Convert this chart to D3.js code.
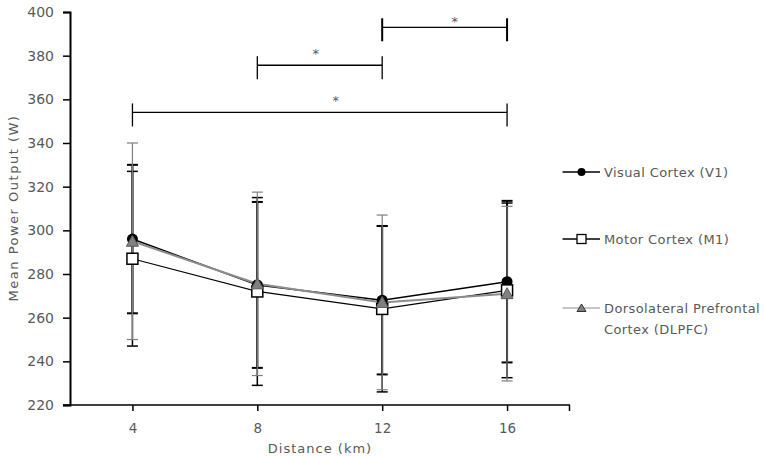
<!DOCTYPE html>
<html>
<head>
<meta charset="utf-8">
<script src="https://cdn.jsdelivr.net/npm/d3@7"></script>
<style>
  body { margin: 0; background: #fff; }
  svg text { font-family: "DejaVu Sans", sans-serif; fill: #595959; }
</style>
</head>
<body>
<div id="chart"></div>
<script>
// distances (km) and mean power output (W) with SD per region
const distances = [4, 8, 12, 16];
const v1Mean = [296, 275, 268, 276.5];
const v1SD = [34, 38, 34, 37];
const m1Mean = [287, 272, 264, 272.5];
const m1SD = [40, 43, 38, 40];
const dlpfcMean = [295, 275.5, 267, 271];
const dlpfcSD = [45, 42, 40, 40];
const yTicks = [220, 240, 260, 280, 300, 320, 340, 360, 380, 400];
const seriesNames = ["Visual Cortex (V1)", "Motor Cortex (M1)", "Dorsolateral Prefrontal|Cortex (DLPFC)"];
// significance brackets: from/to distance, bracket level and star level (W)
const bracketFrom = [12, 8, 4];
const bracketTo = [16, 12, 16];
const bracketLevel = [393, 375.6, 354];
const starLevel = [396, 381, 359.5];

let width = 764, height = 456;
let svg = d3.select("#chart").append("svg")
	.attr("width", width)
	.attr("height", height);

let x = d3.scalePoint()
	.domain(distances)
	.range([70, 569.5])
	.padding(0.5);

let y = d3.scaleLinear()
	.domain([220, 400])
	.range([405, 12]);

// y axis
let yAxis = svg.append("g")
	.attr("transform", "translate(70,0)")
	.call(d3.axisLeft(y).tickValues(yTicks).tickSize(7).tickPadding(9));
yAxis.select(".domain").attr("stroke", "#000").attr("stroke-width", 2);
yAxis.selectAll(".tick line").attr("stroke", "#000").attr("stroke-width", 1.5);
yAxis.selectAll(".tick text")
	.style("font-size", "14px")
	.attr("fill", "#595959");

// x axis
let xAxis = svg.append("g")
	.attr("transform", "translate(0,405)")
	.call(d3.axisBottom(x).tickSize(6).tickPadding(12));
xAxis.select(".domain").remove();
xAxis.append("line")
	.attr("x1", 63).attr("x2", 570)
	.attr("stroke", "#000").attr("stroke-width", 1.5);
xAxis.append("line")
	.attr("x1", 569.5).attr("x2", 569.5)
	.attr("y1", 0).attr("y2", 6)
	.attr("stroke", "#000").attr("stroke-width", 1.5);
xAxis.selectAll(".tick line").attr("stroke", "#000").attr("stroke-width", 1.5);
xAxis.selectAll(".tick text")
	.style("font-size", "13.5px")
	.attr("fill", "#595959");

// axis titles
svg.append("text")
	.attr("transform", "translate(18,208) rotate(-90)")
	.attr("text-anchor", "middle")
	.style("font-size", "13px")
	.style("letter-spacing", "1.5px")
	.text("Mean Power Output (W)");

svg.append("text")
	.attr("x", 320)
	.attr("y", 453)
	.attr("text-anchor", "middle")
	.style("font-size", "13px")
	.style("letter-spacing", "1px")
	.text("Distance (km)");

let series = [
	{mean: v1Mean, sd: v1SD, color: "#000", lineW: 1.5, barW: 2, barColor: "#000"},
	{mean: m1Mean, sd: m1SD, color: "#000", lineW: 1.2, barW: 1.5, barColor: "#000"},
	{mean: dlpfcMean, sd: dlpfcSD, color: "#8c8c8c", lineW: 2, barW: 1.2, barColor: "#7f7f7f"}
];

let capW = 5.5;

// error bars
series.forEach(function(s) {
	let g = svg.append("g");
	distances.forEach(function(d, i) {
		let hi = y(s.mean[i] + s.sd[i]), lo = y(s.mean[i] - s.sd[i]);
		g.append("line")
			.attr("x1", x(d)).attr("x2", x(d))
			.attr("y1", hi).attr("y2", lo)
			.attr("stroke", s.barColor).attr("stroke-width", s.barW);
		[hi, lo].forEach(function(yy) {
			g.append("line")
				.attr("x1", x(d) - capW).attr("x2", x(d) + capW)
				.attr("y1", yy).attr("y2", yy)
				.attr("stroke", s.barColor).attr("stroke-width", s.barW);
		});
	});
});

// lines
let line = d3.line()
	.x((d, i) => x(distances[i]))
	.y(d => y(d));

series.forEach(function(s) {
	svg.append("path")
		.datum(s.mean)
		.attr("d", line)
		.attr("fill", "none")
		.attr("stroke", s.color)
		.attr("stroke-width", s.lineW);
});

// markers
function drawMarker(g, k, cx, cy) {
	if (k == 0) {
		g.append("circle").attr("cx", cx).attr("cy", cy).attr("r", 5.5).attr("fill", "#000");
	} else if (k == 1) {
		g.append("rect").attr("x", cx - 5.5).attr("y", cy - 5.5)
			.attr("width", 11).attr("height", 11)
			.attr("fill", "#fff").attr("stroke", "#000").attr("stroke-width", 1.5);
	} else {
		g.append("path")
			.attr("d", "M" + cx + "," + (cy - 6) + "L" + (cx + 6) + "," + (cy + 5) + "L" + (cx - 6) + "," + (cy + 5) + "Z")
			.attr("fill", "#808080").attr("stroke", "#595959").attr("stroke-width", 1);
	}
}

let markers = svg.append("g");
[0, 1, 2].forEach(function(k) {
	distances.forEach(function(d, i) {
		drawMarker(markers, k, x(d), y(series[k].mean[i]));
	});
});

// significance brackets
let starShift = [10, -4, 16];
bracketFrom.forEach(function(f, i) {
	let g = svg.append("g");
	let x1 = x(f), x2 = x(bracketTo[i]), yy = y(bracketLevel[i]);
	let sw = i == 0 ? 2 : 1.3;
	g.append("line").attr("x1", x1).attr("x2", x2).attr("y1", yy).attr("y2", yy)
		.attr("stroke", "#000").attr("stroke-width", 1.3);
	[x1, x2].forEach(function(xx) {
		g.append("line").attr("x1", xx).attr("x2", xx).attr("y1", yy - 9).attr("y2", yy + 14)
			.attr("stroke", "#000").attr("stroke-width", sw);
	});
	g.append("text")
		.attr("x", (x1 + x2) / 2 + starShift[i])
		.attr("y", y(starLevel[i]) + 5)
		.attr("text-anchor", "middle")
		.style("font-size", "13px")
		.attr("fill", "#222")
		.text("*");
});

// legend
let legend = svg.append("g");
let legendY = [172, 239, 308];
seriesNames.forEach(function(name, k) {
	let ly = legendY[k];
	legend.append("line")
		.attr("x1", 562.5).attr("x2", 600)
		.attr("y1", ly).attr("y2", ly)
		.attr("stroke", series[k].color).attr("stroke-width", k == 2 ? 1 : 1.3);
	if (k == 0) legend.append("circle").attr("cx", 581.5).attr("cy", ly).attr("r", 4).attr("fill", "#000");
	else if (k == 1) legend.append("rect").attr("x", 577).attr("y", ly - 4.5).attr("width", 9).attr("height", 9)
		.attr("fill", "#fff").attr("stroke", "#000").attr("stroke-width", 1.3);
	else legend.append("path").attr("d", "M581.5," + (ly - 4) + "L586," + (ly + 3.5) + "L577," + (ly + 3.5) + "Z")
		.attr("fill", "#808080").attr("stroke", "#333").attr("stroke-width", 1);
	let t = legend.append("text")
		.attr("x", 604)
		.attr("y", ly + 5)
		.style("font-size", "13px")
		.style("letter-spacing", "0.4px");
	name.split("|").forEach(function(part, j) {
		t.append("tspan").attr("x", 604).attr("dy", j == 0 ? 0 : 21).text(part);
	});
});
</script>
</body>
</html>
